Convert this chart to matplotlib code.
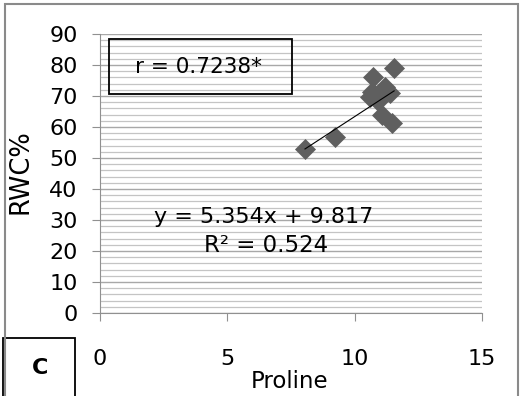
import matplotlib.pyplot as plt
from matplotlib.patches import Rectangle
from matplotlib.ticker import MultipleLocator

# data
proline = [8.05, 9.23, 10.6, 10.68, 10.72, 10.9, 11.19, 11.39, 11.07, 11.46, 11.55]
rwc = [53.0, 56.8, 69.7, 71.3, 76.0, 68.5, 72.9, 71.0, 63.9, 61.3, 79.0]
slope, intercept = 5.354, 9.817
r_label = "r = 0.7238*"
eq_label = "y = 5.354x + 9.817"
r2_label = "R² = 0.524"
panel = "C"

plt.rcParams["font.family"] = ["DejaVu Sans"]

W, H = 522, 396
fig = plt.figure(figsize=(W / 100, H / 100), dpi=100)
ax = fig.add_axes([100 / W, 83 / H, 382 / W, 279 / H])

ax.scatter(proline, rwc, marker="D", s=115, color="#5f5f5f", zorder=3, linewidths=0)

x0, x1 = min(proline), max(proline)
ax.plot([x0, x1], [slope * x0 + intercept, slope * x1 + intercept],
        color="black", lw=0.8, zorder=4)

ax.set_xlim(0, 15)
ax.set_ylim(0, 90)
ax.xaxis.set_major_locator(MultipleLocator(5))
ax.yaxis.set_major_locator(MultipleLocator(10))
ax.yaxis.set_minor_locator(MultipleLocator(2))
ax.grid(axis="y", which="major", color="#a8a8a8", lw=1.0)
ax.grid(axis="y", which="minor", color="#c4c4c4", lw=0.9)
ax.set_axisbelow(True)

for s in ["top", "right"]:
    ax.spines[s].set_visible(False)
for s in ["left", "bottom"]:
    ax.spines[s].set_color("#909090")
ax.tick_params(axis="both", which="major", direction="out", length=6,
               color="#909090", labelsize=16, labelcolor="black")
ax.tick_params(axis="y", pad=10)
ax.tick_params(axis="x", pad=20)
ax.tick_params(axis="y", which="minor", length=0)

fig.text(21 / W, 1 - 172 / H, "RWC%", fontsize=18.5, rotation=90, ha="center", va="center")
fig.text(290 / W, 1 - 382 / H, "Proline", fontsize=16.5, ha="center", va="center")

# r box
fig.patches.append(Rectangle((109 / W, 1 - 94 / H), 183 / W, 55 / H,
                             transform=fig.transFigure, fill=False, ec="black", lw=1.3))
fig.text(198 / W, 1 - 67 / H, r_label, fontsize=15.5, ha="center", va="center")
fig.text(264 / W, 1 - 217 / H, eq_label, fontsize=16, ha="center", va="center")
fig.text(266 / W, 1 - 245 / H, r2_label, fontsize=16.5, ha="center", va="center")

# panel letter box
fig.patches.append(Rectangle((3 / W, -0.01), 72 / W, 58 / H + 0.01,
                             transform=fig.transFigure, fill=False, ec="black", lw=1.3))
fig.text(40 / W, 1 - 368 / H, panel, fontsize=16, fontweight="bold",
         ha="center", va="center")

# outer frame
fig.patches.append(Rectangle((5 / W, -0.01), 513 / W, 1 - 4 / H + 0.01,
                             transform=fig.transFigure, fill=False, ec="#8a8a8a", lw=1.5))

fig.savefig("out.png", dpi=100)
